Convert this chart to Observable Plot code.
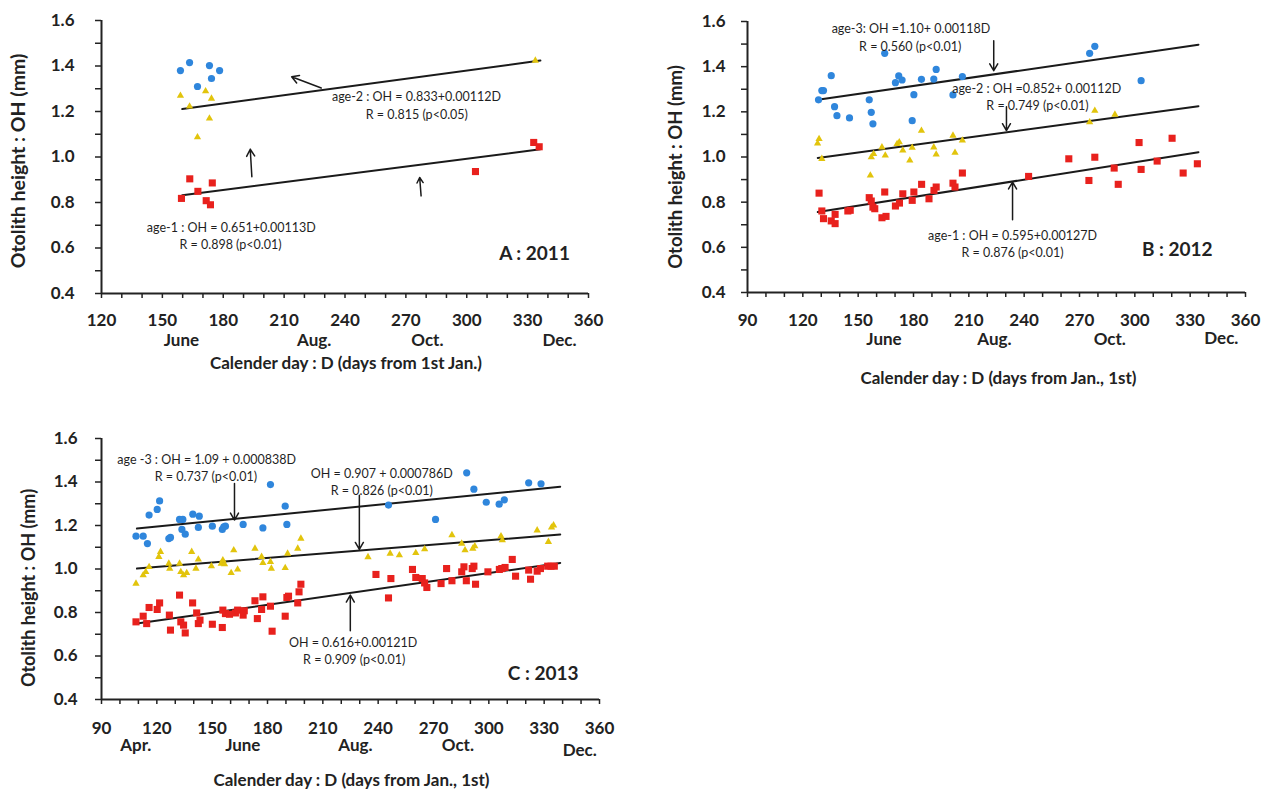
<!DOCTYPE html>
<html><head><meta charset="utf-8">
<script src="https://cdn.jsdelivr.net/npm/d3@7"></script>
<script src="https://cdn.jsdelivr.net/npm/@observablehq/plot@0.6"></script>
<style>
body{margin:0;background:#fff;}
#wrap{position:relative;width:1271px;height:791px;overflow:hidden;background:#fff;}
.panel{position:absolute;}
</style></head><body><div id="wrap"></div>
<script>
// ---------- shared text / ticks ----------
const yTitle = "Otolith height : OH (mm)";
const yMajor = [0.4, 0.6, 0.8, 1.0, 1.2, 1.4, 1.6];
const yMinor = [0.4, 0.5, 0.6, 0.7, 0.8, 0.9, 1.0, 1.1, 1.2, 1.3, 1.4, 1.5, 1.6];
const xMajorA = [120, 150, 180, 210, 240, 270, 300, 330, 360];
const xMajorBC = [90, 120, 150, 180, 210, 240, 270, 300, 330, 360];

// ---------- Panel A : 2011 ----------
const dayA3 = [158.9, 163.4, 167.3, 173.2, 174.2, 178.2];
const ohA3  = [1.380, 1.415, 1.310, 1.402, 1.345, 1.380];
const dayA2 = [158.9, 163.4, 167.3, 171.3, 173.2, 174.2, 333.8];
const ohA2  = [1.270, 1.222, 1.087, 1.289, 1.170, 1.257, 1.424];
const dayA1 = [159.4, 163.5, 167.5, 171.6, 173.7, 174.6, 304.3, 333.0, 335.7];
const ohA1  = [0.818, 0.904, 0.849, 0.808, 0.790, 0.886, 0.936, 1.064, 1.045];
const fitDayA = [159.8, 336.3];
const fitA2 = [1.211, 1.424];
const fitA1 = [0.832, 1.034];
const monthNamesA = ["June", "Aug.", "Oct.", "Dec."];
const monthDaysA = [159.4, 224.8, 280.6, 345.7];
const notesA = [
  {day: 275.2, oh: 1.262, text: "age-2 : OH = 0.833+0.00112D"},
  {day: 275.4, oh: 1.184, text: "R = 0.815 (p<0.05)"},
  {day: 184.0, oh: 0.689, text: "age-1 : OH = 0.651+0.00113D"},
  {day: 183.6, oh: 0.611, text: "R = 0.898 (p<0.01)"}
];
const arrowsA = [
  {d1: 228.3, o1: 1.303, d2: 213.7, o2: 1.353},
  {d1: 194.1, o1: 0.913, d2: 193.3, o2: 1.034},
  {d1: 277.5, o1: 0.829, d2: 276.8, o2: 0.910}
];

// ---------- Panel B : 2012 ----------
const dayB3 = [128.5,130.3,131.2,135.4,137.2,138.5,145.3,156.0,157.1,158.0,164.4,170.2,172.0,173.8,180.2,179.3,184.3,191.0,192.3,201.4,206.5,275.5,278.3,303.4];
const ohB3  = [1.253,1.294,1.294,1.360,1.223,1.183,1.173,1.253,1.198,1.147,1.459,1.329,1.359,1.341,1.276,1.161,1.344,1.345,1.388,1.275,1.356,1.459,1.490,1.338];
const dayB2 = [128.0,128.8,130.3,156.6,157.1,158.4,162.9,164.7,171.1,172.3,174.2,178.0,179.3,184.3,191.0,192.3,201.4,202.5,206.5,275.5,278.3,289.2];
const ohB2  = [1.060,1.080,0.992,0.918,0.999,1.014,1.043,1.007,1.058,1.066,1.029,0.985,1.041,1.117,1.043,1.011,1.095,1.019,1.073,1.154,1.205,1.188];
const dayB1 = [128.8,130.3,131.2,135.4,137.5,137.5,144.4,145.7,156.0,157.1,158.0,159.0,162.9,165.1,164.4,170.2,172.4,174.2,179.3,180.2,184.4,188.4,191.1,192.3,201.4,202.5,206.5,242.4,264.2,275.1,278.3,288.8,291.0,302.3,303.4,312.1,320.2,326.2,333.9];
const ohB1  = [0.840,0.761,0.727,0.717,0.705,0.746,0.761,0.764,0.820,0.805,0.778,0.771,0.731,0.737,0.845,0.783,0.796,0.837,0.808,0.845,0.879,0.815,0.852,0.867,0.884,0.867,0.929,0.914,0.992,0.896,0.999,0.951,0.879,1.064,0.945,0.982,1.083,0.929,0.970];
const fitDayB = [128.1, 334.5];
const fitB3 = [1.253, 1.497];
const fitB2 = [0.996, 1.225];
const fitB1 = [0.756, 1.021];
const monthNamesB = ["June", "Aug.", "Oct.", "Dec."];
const monthDaysB = [164.0, 223.9, 286.4, 346.9];
const notesB = [
  {day: 178.6, oh: 1.566, text: "age-3: OH =1.10+ 0.00118D"},
  {day: 178.2, oh: 1.488, text: "R = 0.560 (p<0.01)"},
  {day: 246.8, oh: 1.301, text: "age-2 : OH =0.852+ 0.00112D"},
  {day: 247.2, oh: 1.228, text: "R = 0.749 (p<0.01)"},
  {day: 233.7, oh: 0.650, text: "age-1 : OH = 0.595+0.00127D"},
  {day: 233.7, oh: 0.577, text: "R = 0.876 (p<0.01)"}
];
const arrowsB = [
  {d1: 223.5, o1: 1.515, d2: 223.5, o2: 1.382},
  {d1: 230.4, o1: 1.223, d2: 230.4, o2: 1.117},
  {d1: 233.7, o1: 0.722, d2: 233.7, o2: 0.889}
];

// ---------- Panel C : 2013 ----------
const dayC3 = [108.7,112.6,114.9,115.8,120.2,121.5,126.5,127.4,132.3,134.1,133.6,135.4,139.5,143.0,142.5,150.1,155.5,156.3,157.2,166.8,177.5,181.6,189.6,190.5,245.6,271.1,288.0,291.9,298.6,305.6,308.4,321.6,328.3];
const ohC3  = [1.151,1.151,1.117,1.248,1.274,1.313,1.140,1.145,1.228,1.228,1.182,1.160,1.252,1.243,1.191,1.197,1.182,1.194,1.197,1.205,1.189,1.388,1.289,1.205,1.294,1.228,1.442,1.367,1.307,1.298,1.318,1.396,1.392];
const dayC2 = [108.7,112.6,114.0,115.8,121.1,122.0,126.5,127.0,132.3,133.0,134.5,136.2,138.9,141.2,142.5,149.6,154.9,155.8,156.7,160.3,161.7,163.8,173.2,176.8,177.5,182.1,181.6,189.6,190.9,196.4,198.1,234.5,246.5,251.5,260.4,265.2,280.0,285.3,287.1,291.3,292.4,306.6,307.3,326.2,332.3,334.0,335.1];
const ohC2  = [0.933,0.972,0.987,1.010,1.056,1.079,1.025,1.002,1.025,0.987,0.972,0.982,1.079,1.002,1.044,1.013,1.025,1.041,1.022,0.982,1.087,0.998,1.094,1.056,1.028,1.002,1.033,1.005,1.071,1.094,1.140,1.055,1.071,1.064,1.074,1.091,1.156,1.117,1.087,1.094,1.105,1.151,1.133,1.178,1.125,1.191,1.201];
const dayC1 = [108.7,112.6,114.5,115.8,120.2,121.5,126.8,127.4,132.3,133.0,134.5,135.4,139.4,141.6,142.5,143.4,150.1,155.5,155.8,157.2,159.4,162.6,163.8,166.8,167.4,173.2,174.5,176.8,177.5,181.6,182.5,189.6,190.5,191.4,196.4,197.1,198.1,238.8,245.6,246.9,258.6,260.4,263.9,265.2,266.4,274.1,277.1,280.0,285.3,286.5,287.8,291.0,291.9,292.8,299.5,305.7,307.0,308.8,312.7,314.5,321.6,322.6,326.2,328.0,331.9,333.7,335.5];
const ohC1  = [0.757,0.783,0.749,0.823,0.814,0.844,0.788,0.719,0.880,0.757,0.742,0.706,0.844,0.798,0.749,0.765,0.746,0.731,0.811,0.795,0.792,0.798,0.811,0.788,0.808,0.854,0.772,0.814,0.872,0.829,0.714,0.783,0.869,0.875,0.844,0.895,0.930,0.975,0.867,0.956,0.998,0.961,0.956,0.936,0.915,0.933,1.002,0.946,0.987,1.010,0.946,1.002,1.013,0.930,0.987,0.998,1.002,1.007,1.044,0.967,0.995,0.953,0.990,1.002,1.013,1.013,1.013];
const fitDayC = [109.2, 338.7];
const fitC3 = [1.186, 1.378];
const fitC2 = [1.002, 1.159];
const fitC1 = [0.749, 1.028];
const monthNamesC = ["Apr.", "June", "Aug.", "Oct.", "Dec."];
const monthDaysC = [108.6, 166.6, 227.7, 283.2, 349.3];
const notesC = [
  {day: 147.0, oh: 1.500, text: "age -3 : OH = 1.09 + 0.000838D"},
  {day: 146.6, oh: 1.424, text: "R = 0.737 (p<0.01)"},
  {day: 242.0, oh: 1.439, text: "OH = 0.907 + 0.000786D"},
  {day: 242.0, oh: 1.359, text: "R = 0.826 (p<0.01)"},
  {day: 226.4, oh: 0.661, text: "OH = 0.616+0.00121D"},
  {day: 227.0, oh: 0.581, text: "R = 0.909 (p<0.01)"}
];
const arrowsC = [
  {d1: 162.1, o1: 1.393, d2: 162.1, o2: 1.225},
  {d1: 229.8, o1: 1.339, d2: 229.8, o2: 1.090},
  {d1: 224.9, o1: 0.716, d2: 224.9, o2: 0.880}
];

// ---------- styling ----------
const FONT = "Lato, 'Open Sans', 'Liberation Sans', sans-serif";
const BLUE = "#2f86dc", YELLOW = "#e2c40c", RED = "#e8211d", INK = "#222";

const pts = (days, ohs) => days.slice(0, Math.min(days.length, ohs.length)).map((d, i) => ({day: d, oh: ohs[i]}));

function panel(cfg) {
  const monthRows = cfg.monthNames.map((n, i) => ({name: n, day: cfg.monthDays[i]}));
  const last = monthRows.length - 1;
  const below = {frameAnchor: "bottom", lineAnchor: "middle", textAnchor: "middle", fontSize: 17};
  const marks = [
    // axis lines
    Plot.ruleY([0.4], {x1: cfg.xDomain[0], x2: cfg.xDomain[1], stroke: INK, strokeWidth: 2}),
    Plot.ruleX([cfg.xDomain[0]], {y1: 0.4, y2: 1.6, stroke: INK, strokeWidth: 2}),
    Plot.axisX({ticks: d3.range(cfg.xDomain[0], cfg.xDomain[1] + 1, 10), tickSize: 5, tickFormat: () => "", label: null, stroke: INK, strokeWidth: 1.5}),
    Plot.axisY({ticks: yMinor, tickSize: 6, tickFormat: () => "", label: null, stroke: INK, strokeWidth: 1.5}),
    // tick labels
    Plot.text(cfg.xMajor, {x: d => d, text: d => String(d), dy: cfg.xLabelDy, ...below}),
    Plot.text(yMajor, {y: d => d, text: d => d.toFixed(1), frameAnchor: "left", lineAnchor: "middle", dx: cfg.yLabelDx, textAnchor: "end", fontSize: 17}),
    // months
    Plot.text(monthRows.slice(0, last), {x: "day", text: "name", dy: cfg.monthDy, ...below}),
    Plot.text(monthRows.slice(last), {x: "day", text: "name", dy: cfg.monthDyLast, ...below}),
    // axis titles
    Plot.text([cfg.xTitle], {text: d => d, dy: cfg.xTitleDy, dx: cfg.xTitleDx, ...below}),
    Plot.text([yTitle], {text: d => d, frameAnchor: "left", textAnchor: "middle", lineAnchor: "middle", rotate: -90, dx: cfg.yTitleDx, dy: cfg.yTitleDy, fontSize: cfg.yTitleSize}),
    // fitted lines
    ...cfg.fits.map(f => Plot.line(pts(cfg.fitDay, f), {x: "day", y: "oh", stroke: "#1a1a1a", strokeWidth: 2})),
    // points
    Plot.dot(pts(cfg.d3, cfg.o3), {x: "day", y: "oh", symbol: "circle", r: 3.6, fill: BLUE}),
    Plot.dot(pts(cfg.d2, cfg.o2), {x: "day", y: "oh", symbol: "triangle", r: 2.7, fill: YELLOW}),
    Plot.dot(pts(cfg.d1, cfg.o1), {x: "day", y: "oh", symbol: "square", r: 4.0, fill: RED}),
    // arrows
    Plot.arrow(cfg.arrows, {x1: "d1", y1: "o1", x2: "d2", y2: "o2", stroke: "#1a1a1a", strokeWidth: 1.5, headLength: 8}),
    // annotations
    Plot.text(cfg.notes, {x: "day", y: "oh", text: "text", fontSize: 12.5, fontWeight: "normal", fill: "#1f1f1f"}),
    Plot.text([cfg.tag], {x: d => d.day, y: d => d.oh, text: d => d.text, fontSize: 19})
  ];
  const svg = Plot.plot({
    width: cfg.width, height: cfg.height,
    marginLeft: cfg.ml, marginRight: cfg.mr, marginTop: cfg.mt, marginBottom: cfg.mb,
    x: {domain: cfg.xDomain},
    y: {domain: [0.4, 1.6]},
    style: {fontFamily: FONT, fontWeight: "bold", fontSize: "17px", color: INK, background: "transparent", overflow: "visible"},
    marks
  });
  const div = document.createElement("div");
  div.className = "panel";
  div.style.left = cfg.left + "px";
  div.style.top = cfg.top + "px";
  div.appendChild(svg);
  document.getElementById("wrap").appendChild(div);
}

panel({
  left: 0, top: 0, width: 640, height: 400, ml: 101, mr: 52, mt: 20, mb: 107,
  xDomain: [120, 360], xMajor: xMajorA,
  xLabelDy: 27.5, monthDy: 47, monthDyLast: 47, xTitleDy: 70.5, xTitleDx: 1,
  yLabelDx: -27, yTitleDx: -83, yTitleDy: 4, yTitleSize: 19.5,
  xTitle: "Calender day : D (days from 1st Jan.)",
  monthNames: monthNamesA, monthDays: monthDaysA,
  d3: dayA3, o3: ohA3, d2: dayA2, o2: ohA2, d1: dayA1, o1: ohA1,
  fitDay: fitDayA, fits: [fitA2, fitA1],
  arrows: arrowsA, notes: notesA,
  tag: {day: 333.4, oh: 0.575, text: "A : 2011"}
});

panel({
  left: 640, top: 0, width: 631, height: 400, ml: 107, mr: 26, mt: 21, mb: 108,
  xDomain: [90, 360], xMajor: xMajorBC,
  xLabelDy: 28, monthDy: 47.5, monthDyLast: 46, xTitleDy: 86, xTitleDx: 2,
  yLabelDx: -22, yTitleDx: -71, yTitleDy: 10, yTitleSize: 18.5,
  xTitle: "Calender day : D (days from Jan., 1st)",
  monthNames: monthNamesB, monthDays: monthDaysB,
  d3: dayB3, o3: ohB3, d2: dayB2, o2: ohB2, d1: dayB1, o1: ohB1,
  fitDay: fitDayB, fits: [fitB3, fitB2, fitB1],
  arrows: arrowsB, notes: notesB,
  tag: {day: 323.0, oh: 0.590, text: "B : 2012"}
});

panel({
  left: 0, top: 420, width: 640, height: 371, ml: 101, mr: 41, mt: 18, mb: 92,
  xDomain: [90, 360], xMajor: xMajorBC,
  xLabelDy: 29, monthDy: 46, monthDyLast: 51, xTitleDy: 81, xTitleDx: 1,
  yLabelDx: -24, yTitleDx: -72, yTitleDy: 19, yTitleSize: 18,
  xTitle: "Calender day : D (days from Jan., 1st)",
  monthNames: monthNamesC, monthDays: monthDaysC,
  d3: dayC3, o3: ohC3, d2: dayC2, o2: ohC2, d1: dayC1, o1: ohC1,
  fitDay: fitDayC, fits: [fitC3, fitC2, fitC1],
  arrows: arrowsC, notes: notesC,
  tag: {day: 329.5, oh: 0.516, text: "C : 2013"}
});
</script></body></html>
